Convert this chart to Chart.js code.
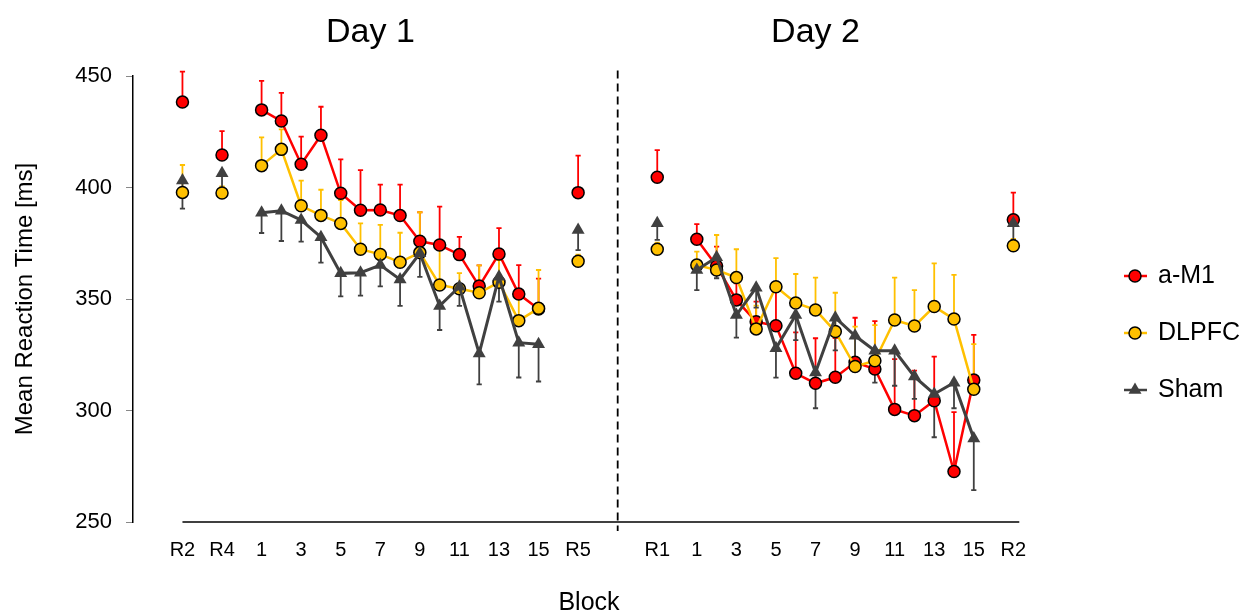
<!DOCTYPE html>
<html>
<head>
<meta charset="utf-8">
<script src="https://cdn.jsdelivr.net/npm/chart.js@4"></script>
<style>
  body { margin: 0; background: #fff; }
  canvas { display: block; }
</style>
</head>
<body>
<canvas id="rt" width="1255" height="616"></canvas>
<script>
// block labels and their position on the x axis (R = rest blocks)
const blockLabels = ['R2', 'R4', '1', '2', '3', '4', '5', '6', '7', '8', '9', '10', '11', '12', '13', '14', '15', 'R5',
  'R1', '1', '2', '3', '4', '5', '6', '7', '8', '9', '10', '11', '12', '13', '14', '15', 'R2'];
const blockX = [0, 2, 4, 5, 6, 7, 8, 9, 10, 11, 12, 13, 14, 15, 16, 17, 18, 20,
  24, 26, 27, 28, 29, 30, 31, 32, 33, 34, 35, 36, 37, 38, 39, 40, 42];
const dayTitles = ['Day 1', 'Day 2'];

const am1 = [438.3, 414.6, 434.8, 429.8, 410.4, 423.4, 397.4, 389.8, 389.9, 387.4, 375.9, 374.2, 369.9, 355.8, 370.2, 352.2, 345.5, 397.7,
  404.6, 376.8, 364.8, 349.6, 339.8, 338.0, 316.7, 312.2, 314.9, 321.6, 318.6, 300.5, 297.7, 304.4, 272.6, 313.7, 385.5];
const am1Err = [13.7, 10.7, 13, 12.6, 12.4, 12.8, 15.2, 18, 11.4, 13.9, 13, 17.2, 8, 9.3, 11.6, 13, 13.6, 16.6,
  12.2, 6.8, 8.7, 7.4, 9, 17, 18.3, 20.2, 17.6, 20, 21.5, 22.5, 20.2, 19.8, 26.7, 20.2, 12.2];

const dlpfc = [397.8, 397.5, 409.8, 417.1, 391.8, 387.5, 383.9, 372.3, 370.0, 366.5, 370.8, 356.3, 354.6, 352.8, 357.5, 340.3, 345.8, 366.9,
  372.3, 365.2, 363.0, 359.6, 336.6, 355.5, 348.2, 345.1, 335.4, 319.7, 322.3, 340.6, 337.9, 346.6, 341.0, 309.5, 373.9];
const dlpfcErr = [12.3, 3, 12.7, 9, 11.3, 11.5, 10.5, 11.6, 13.2, 13.2, 18.1, 16, 7, 12.3, 10, 10, 17.2, 3,
  3, 6, 15.7, 12.7, 10.4, 12.8, 13, 14.5, 17.4, 17.9, 16, 19, 16.1, 19.4, 19.8, 20.3, 3];

const sham = [403.1, 406.4, 388.7, 389.6, 385.4, 377.7, 361.5, 361.8, 365.2, 358.8, 370.5, 346.9, 355.5, 325.6, 360.0, 330.4, 329.7, 380.9,
  384.0, 363.0, 368.7, 342.8, 355.1, 327.9, 342.8, 317.0, 341.6, 333.5, 326.8, 326.8, 315.2, 307.4, 312.5, 287.5, 384.0];
const shamErr = [12.6, 8, 9.1, 13.6, 9.7, 11.4, 10.3, 10.3, 9.5, 11.9, 10.6, 10.8, 8.6, 13.9, 11.2, 15.6, 16.7, 9,
  7.5, 9, 9.4, 10.1, 9, 13.2, 11.2, 16, 14.6, 12.5, 14.3, 15.7, 10, 19.4, 11.5, 23.2, 7.5];

const FONT = '"Liberation Sans", Arial, sans-serif';
const isRest = i => blockLabels[i].startsWith('R');

function series(label, values, errors, dir, color, style, order) {
  const tri = style === 'triangle';
  return {
    label,
    data: blockX.map((x, i) => ({ x, y: values[i] })),
    errors, errDir: dir,
    borderColor: color,
    backgroundColor: color,
    borderWidth: tri ? 3 : 2.5,
    pointStyle: style,
    pointRadius: tri ? 7.5 : 6,
    pointBorderColor: tri ? color : '#000',
    pointBorderWidth: tri ? 0 : 1.5,
    pointBackgroundColor: color,
    order,
    clip: false,
    segment: {
      borderColor: c => (isRest(c.p0DataIndex) || isRest(c.p1DataIndex)) ? 'transparent' : undefined
    }
  };
}

// error bars, x axis line, session divider, titles, legend
const decorations = {
  id: 'decorations',
  beforeDatasetsDraw(chart) {
    const { ctx, scales: { x, y } } = chart;
    ctx.save();
    // x axis line
    ctx.strokeStyle = '#000';
    ctx.lineWidth = 1.5;
    ctx.beginPath();
    ctx.moveTo(x.getPixelForValue(0), y.getPixelForValue(250));
    ctx.lineTo(x.getPixelForValue(42.3), y.getPixelForValue(250));
    ctx.stroke();
    // dashed divider between days
    ctx.setLineDash([8, 5]);
    ctx.lineWidth = 1.8;
    ctx.beginPath();
    ctx.moveTo(x.getPixelForValue(22), y.getPixelForValue(452.5));
    ctx.lineTo(x.getPixelForValue(22), y.getPixelForValue(246));
    ctx.stroke();
    ctx.setLineDash([]);
    // error bars (one-sided)
    chart.data.datasets.forEach((ds, i) => {
      const meta = chart.getDatasetMeta(i);
      ctx.strokeStyle = ds.borderColor;
      ctx.lineWidth = 1.8;
      meta.data.forEach((pt, j) => {
        const y1 = y.getPixelForValue(ds.data[j].y + ds.errDir * ds.errors[j]);
        ctx.beginPath();
        ctx.moveTo(pt.x, pt.y);
        ctx.lineTo(pt.x, y1);
        ctx.moveTo(pt.x - 2.6, y1);
        ctx.lineTo(pt.x + 2.6, y1);
        ctx.stroke();
      });
    });
    ctx.restore();
  },
  afterDraw(chart) {
    const { ctx, scales: { x } } = chart;
    ctx.save();
    ctx.fillStyle = '#000';
    ctx.font = '34px ' + FONT;
    ctx.textAlign = 'center';
    ctx.textBaseline = 'alphabetic';
    ctx.fillText(dayTitles[0], x.getPixelForValue(9.5), 42);
    ctx.fillText(dayTitles[1], x.getPixelForValue(32), 42);

    // legend
    const lx = 1135, ly0 = 276, gap = 57;
    chart.data.datasets.forEach((ds, i) => {
      const ly = ly0 + i * gap;
      ctx.strokeStyle = ds.borderColor;
      ctx.lineWidth = 2.5;
      ctx.beginPath();
      ctx.moveTo(lx - 11, ly);
      ctx.lineTo(lx + 12, ly);
      ctx.stroke();
      ctx.fillStyle = ds.pointBackgroundColor;
      ctx.strokeStyle = ds.pointBorderColor;
      ctx.lineWidth = ds.pointBorderWidth;
      Chart.helpers.drawPoint(ctx, {
        pointStyle: ds.pointStyle, radius: ds.pointRadius, borderWidth: ds.pointBorderWidth, rotation: 0
      }, lx, ly);
      ctx.fillStyle = '#000';
      ctx.font = '25px ' + FONT;
      ctx.textAlign = 'left';
      ctx.textBaseline = 'middle';
      ctx.fillText(ds.label, lx + 23, ly);
    });
    ctx.restore();
  }
};

new Chart(document.getElementById('rt'), {
  type: 'line',
  data: {
    datasets: [
      series('a-M1', am1, am1Err, 1, '#FF0000', 'circle', 3),
      series('DLPFC', dlpfc, dlpfcErr, 1, '#FFC000', 'circle', 2),
      series('Sham', sham, shamErr, -1, '#404040', 'triangle', 1)
    ]
  },
  options: {
    responsive: false,
    animation: false,
    layout: { padding: { top: 76, right: 210, bottom: 0, left: 0 } },
    plugins: { legend: { display: false }, tooltip: { enabled: false } },
    scales: {
      x: {
        type: 'linear',
        min: -2.5,
        max: 43.6,
        grid: { display: false },
        border: { display: false },
        afterBuildTicks: s => { s.ticks = blockX.map(v => ({ value: v })); },
        afterFit: s => { s.height = 94; },
        ticks: {
          autoSkip: false,
          maxRotation: 0,
          padding: 8,
          color: '#000',
          font: { family: FONT, size: 20 },
          callback: (v, i) => {
            const lab = blockLabels[i];
            return (lab.startsWith('R') || Number(lab) % 2 === 1) ? lab : '';
          }
        },
        title: {
          display: true,
          text: 'Block',
          color: '#000',
          font: { family: FONT, size: 25, lineHeight: 1 },
          padding: { top: 0, bottom: 0 }
        }
      },
      y: {
        min: 250,
        max: 450,
        afterFit: s => { s.width = 133; },
        grid: { drawOnChartArea: false, drawTicks: true, tickLength: 7, color: '#888' },
        border: { color: '#000', width: 1.5 },
        ticks: {
          stepSize: 50,
          padding: 14,
          color: '#000',
          font: { family: FONT, size: 22 }
        },
        title: {
          display: true,
          text: 'Mean Reaction Time [ms]',
          color: '#000',
          font: { family: FONT, size: 24 },
          padding: { top: 11, bottom: 0 }
        }
      }
    }
  },
  plugins: [decorations]
});
</script>
</body>
</html>
